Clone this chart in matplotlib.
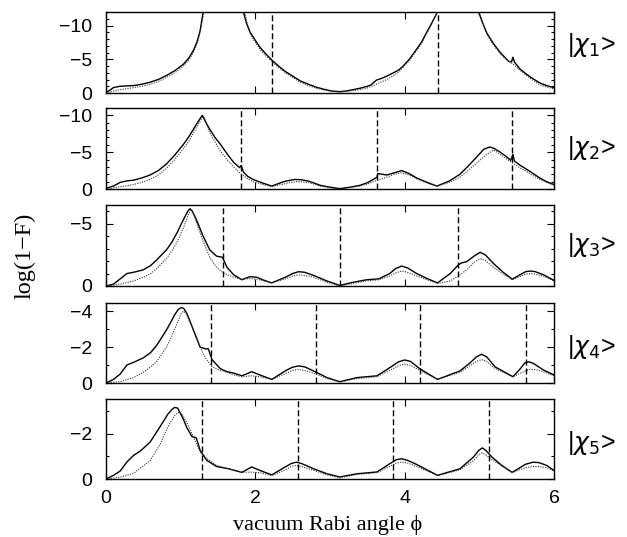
import numpy as np
import matplotlib
matplotlib.use("Agg")
import matplotlib.pyplot as plt
from matplotlib.ticker import MultipleLocator, FixedLocator

nan = np.nan

# ---------------- data: log(1-F) vs vacuum Rabi angle ----------------
# panel 1 |chi_1>
x1_solid = [0.0, 0.05, 0.10, 0.19, 0.37, 0.48, 0.59, 0.70, 0.81, 0.92, 1.04, 1.11, 1.17,
            1.22, 1.26, 1.30, 1.32, nan,
            1.82, 1.84, 1.88, 1.93, 2.00, 2.06, 2.14, 2.22, 2.31, 2.40, 2.50, 2.60, 2.71,
            2.82, 2.92, 3.02, 3.13, 3.22, 3.31, 3.40, 3.50, 3.55, 3.58, 3.62, 3.70, 3.78,
            3.85, 3.92, 3.98, 4.07, 4.16, 4.23, 4.29, 4.36, 4.43, 4.45, nan,
            4.97, 4.99, 5.04, 5.10, 5.19, 5.28, 5.39, 5.43, 5.45, 5.47, 5.54, 5.63, 5.72,
            5.81, 5.90, 6.0]
y1_solid = [-0.1, -0.4, -0.8, -1.0, -1.1, -1.3, -1.6, -2.0, -2.6, -3.3, -4.3, -5.2, -6.3,
            -7.6, -9.2, -11.9, -13, nan,
            -13, -12, -10.4, -9.0, -7.8, -6.8, -5.8, -4.9, -4.0, -3.2, -2.5, -1.8, -1.3,
            -0.85, -0.55, -0.3, -0.2, -0.3, -0.5, -0.7, -1.0, -1.2, -1.5, -1.9, -2.2, -2.6,
            -3.0, -3.4, -4.0, -5.1, -6.5, -7.6, -8.9, -10.3, -11.8, -13, nan,
            -13, -12, -10.5, -8.9, -7.3, -6.0, -4.7, -4.6, -5.3, -4.6, -3.6, -2.8, -2.1,
            -1.5, -1.1, -0.8]
x1_dot = [0.0, 0.10, 0.19, 0.37, 0.48, 0.59, 0.70, 0.81, 0.92, 1.04, 1.11, 1.17, 1.22,
          1.26, 1.31, 1.33, nan,
          1.83, 1.86, 1.89, 1.93, 2.00, 2.06, 2.14, 2.22, 2.31, 2.40, 2.50, 2.60, 2.71,
          2.82, 2.92, 3.02, 3.13, 3.22, 3.31, 3.40, 3.50, 3.58, 3.70, 3.78, 3.85, 3.92,
          3.98, 4.07, 4.16, 4.23, 4.29, 4.36, 4.43, 4.45, nan,
          4.98, 5.00, 5.05, 5.10, 5.19, 5.28, 5.36, 5.45, 5.54, 5.63, 5.72, 5.81, 5.90, 6.0]
y1_dot = [0.0, -0.3, -0.5, -0.8, -1.0, -1.3, -1.7, -2.3, -3.0, -4.0, -4.9, -6.0, -7.3,
          -9.0, -11.9, -13, nan,
          -13, -12, -10.3, -8.8, -7.5, -6.5, -5.5, -4.7, -3.8, -3.0, -2.3, -1.6, -1.1,
          -0.7, -0.45, -0.25, -0.15, -0.22, -0.35, -0.5, -0.75, -1.1, -1.7, -2.1, -2.6,
          -3.1, -3.8, -4.9, -6.3, -7.4, -8.7, -10.2, -11.8, -13, nan,
          -13, -12, -10.3, -8.7, -7.1, -5.8, -5.0, -4.3, -3.4, -2.6, -1.9, -1.2, -0.9, -0.6]

# panel 2 |chi_2>
x2_solid = [0.0, 0.10, 0.19, 0.28, 0.37, 0.48, 0.59, 0.70, 0.81, 0.92, 1.04, 1.11, 1.17,
            1.23, 1.29, 1.34, 1.39, 1.46, 1.53, 1.62, 1.71, 1.79, 1.81, 1.84, 1.90, 1.97,
            2.10, 2.22, 2.30, 2.40, 2.53, 2.62, 2.72, 2.87, 3.00, 3.13, 3.27, 3.40, 3.50,
            3.58, 3.63, 3.64, 3.70, 3.76, 3.86, 3.96, 4.06, 4.16, 4.30, 4.43, 4.52, 4.60,
            4.74, 4.85, 4.96, 5.06, 5.14, 5.20, 5.28, 5.35, 5.42, 5.45, 5.47, 5.55, 5.63,
            5.72, 5.81, 5.90, 6.0]
y2_solid = [-0.1, -0.4, -0.9, -1.1, -1.2, -1.5, -1.9, -2.5, -3.4, -4.6, -6.1, -7.1, -8.1,
            -9.1, -10.0, -9.0, -8.1, -7.0, -6.1, -4.8, -3.6, -2.9, -3.2, -2.3, -1.7, -1.3,
            -0.8, -0.4, -0.7, -1.05, -1.3, -1.25, -1.05, -0.5, -0.25, -0.05, -0.25, -0.5,
            -0.85, -1.3, -1.6, -2.1, -2.0, -1.9, -2.2, -2.5, -2.1, -1.5, -0.9, -0.4, -0.75,
            -1.1, -2.0, -3.1, -4.3, -5.4, -5.7, -5.5, -5.0, -4.5, -3.9, -4.7, -3.8, -3.2,
            -2.7, -2.1, -1.5, -1.0, -0.6]
x2_dot = [0.0, 0.19, 0.37, 0.48, 0.59, 0.70, 0.81, 0.92, 1.04, 1.11, 1.17, 1.23, 1.29,
          1.31, 1.34, 1.39, 1.46, 1.53, 1.62, 1.71, 1.81, 1.90, 1.97, 2.10, 2.22, 2.35,
          2.45, 2.55, 2.62, 2.72, 2.87, 3.00, 3.13, 3.27, 3.40, 3.50, 3.58, 3.76, 3.86,
          3.96, 4.06, 4.16, 4.30, 4.43, 4.60, 4.74, 4.85, 4.96, 5.10, 5.19, 5.28, 5.36,
          5.45, 5.54, 5.63, 5.72, 5.81, 5.90, 6.0]
y2_dot = [0.0, -0.3, -0.6, -0.9, -1.3, -1.9, -2.8, -4.0, -5.5, -6.5, -7.6, -8.7, -9.7,
          -9.8, -9.0, -7.6, -6.4, -5.2, -4.0, -3.0, -2.0, -1.4, -1.0, -0.6, -0.35, -0.6,
          -0.85, -1.0, -0.98, -0.85, -0.4, -0.15, 0.0, -0.2, -0.4, -0.65, -1.0, -1.6,
          -2.0, -2.2, -1.9, -1.4, -0.8, -0.4, -0.9, -1.6, -2.5, -3.5, -4.7, -5.3, -4.7,
          -4.1, -3.5, -2.9, -2.4, -1.8, -1.3, -0.9, -0.5]

# panel 3 |chi_3>
x3_solid = [0.0, 0.10, 0.19, 0.28, 0.37, 0.50, 0.60, 0.68, 0.81, 0.88, 0.95, 1.01, 1.06,
            1.10, 1.125, 1.15, 1.19, 1.24, 1.30, 1.39, 1.48, 1.56, 1.62, 1.71, 1.82, 1.88,
            1.93, 2.02, 2.12, 2.22, 2.32, 2.42, 2.50, 2.58, 2.66, 2.78, 2.96, 3.13, 3.31,
            3.49, 3.65, 3.80, 3.88, 3.96, 4.04, 4.16, 4.30, 4.44, 4.61, 4.72, 4.76, 4.83,
            4.93, 5.01, 5.08, 5.19, 5.32, 5.44, 5.56, 5.62, 5.68, 5.75, 5.86, 6.0]
y3_solid = [0.0, -0.15, -0.57, -1.0, -1.1, -1.3, -1.65, -2.1, -2.9, -3.5, -4.25, -5.0, -5.6,
            -6.05, -6.2, -6.05, -5.6, -4.9, -4.0, -2.9, -2.4, -2.3, -1.5, -0.9, -0.5, -0.65,
            -0.75, -0.7, -0.45, -0.25, -0.5, -0.75, -1.0, -1.15, -1.1, -0.85, -0.4, -0.05,
            -0.3, -0.5, -0.57, -1.0, -1.4, -1.6, -1.45, -1.0, -0.6, -0.25, -1.0, -1.7, -1.85,
            -1.95, -2.4, -2.7, -2.5, -1.8, -1.1, -0.55, -0.95, -1.15, -1.2, -1.15, -0.9,
            -0.45]
x3_dot = [0.0, 0.19, 0.37, 0.50, 0.60, 0.68, 0.81, 0.88, 0.95, 1.01, 1.06, 1.10, 1.135,
          1.16, 1.19, 1.24, 1.30, 1.39, 1.48, 1.56, 1.62, 1.71, 1.82, 1.93, 2.02, 2.22,
          2.42, 2.50, 2.58, 2.66, 2.78, 2.96, 3.13, 3.31, 3.49, 3.65, 3.80, 3.88, 3.96,
          4.04, 4.16, 4.30, 4.44, 4.61, 4.72, 4.83, 4.93, 5.01, 5.08, 5.19, 5.32, 5.44,
          5.56, 5.62, 5.68, 5.75, 5.86, 6.0]
y3_dot = [0.0, -0.15, -0.4, -0.7, -1.0, -1.4, -2.2, -2.8, -3.5, -4.3, -5.0, -5.7, -6.1,
          -6.0, -5.5, -4.6, -3.6, -2.3, -1.5, -1.1, -0.9, -0.7, -0.55, -0.6, -0.55, -0.25,
          -0.6, -0.8, -0.9, -0.85, -0.7, -0.3, 0.0, -0.2, -0.4, -0.5, -0.8, -1.05, -1.2,
          -1.1, -0.8, -0.5, -0.2, -0.4, -0.8, -1.3, -1.9, -2.2, -2.05, -1.5, -0.95, -0.5,
          -0.8, -0.95, -1.0, -0.95, -0.8, -0.4]

# panel 4 |chi_4>
x4_solid = [0.0, 0.10, 0.19, 0.28, 0.37, 0.50, 0.60, 0.68, 0.81, 0.87, 0.92, 0.97, 1.01,
            1.04, 1.08, 1.12, 1.17, 1.26, 1.33, 1.37, 1.42, 1.53, 1.62, 1.71, 1.82, 1.88,
            1.95, 2.06, 2.22, 2.42, 2.50, 2.58, 2.66, 2.78, 2.96, 3.13, 3.36, 3.63, 3.80,
            3.92, 4.00, 4.08, 4.20, 4.44, 4.74, 4.87, 4.96, 5.03, 5.10, 5.21, 5.45, 5.55,
            5.61, 5.66, 5.72, 5.86, 6.0]
y4_solid = [0.0, -0.2, -0.5, -1.0, -1.15, -1.4, -1.7, -2.1, -2.95, -3.4, -3.8, -4.1, -4.2,
            -4.15, -3.9, -3.5, -2.95, -2.0, -1.9, -1.9, -1.3, -0.8, -0.63, -0.55, -0.4,
            -0.5, -0.63, -0.45, -0.2, -0.72, -0.88, -0.95, -0.9, -0.67, -0.3, -0.07, -0.3,
            -0.4, -0.85, -1.18, -1.28, -1.2, -0.8, -0.2, -0.67, -1.1, -1.45, -1.6, -1.45,
            -0.9, -0.35, -0.8, -1.12, -1.18, -1.1, -0.72, -0.45]
x4_dot = [0.0, 0.19, 0.37, 0.50, 0.60, 0.68, 0.81, 0.87, 0.92, 0.97, 1.01, 1.04, 1.08,
          1.12, 1.17, 1.26, 1.33, 1.42, 1.53, 1.62, 1.71, 1.82, 1.95, 2.06, 2.22, 2.42,
          2.50, 2.58, 2.66, 2.78, 2.96, 3.13, 3.36, 3.63, 3.80, 3.92, 4.00, 4.08, 4.20,
          4.44, 4.74, 4.87, 4.96, 5.03, 5.10, 5.21, 5.45, 5.66, 5.76, 5.86, 6.0]
y4_dot = [0.0, -0.08, -0.3, -0.6, -0.9, -1.2, -2.0, -2.5, -3.0, -3.5, -3.9, -4.0, -3.8,
          -3.4, -3.0, -2.0, -1.4, -0.9, -0.7, -0.6, -0.45, -0.35, -0.4, -0.35, -0.2, -0.55,
          -0.7, -0.75, -0.7, -0.55, -0.25, -0.05, -0.25, -0.35, -0.7, -0.97, -1.05, -0.98,
          -0.7, -0.2, -0.6, -0.95, -1.2, -1.3, -1.2, -0.8, -0.35, -0.75, -0.75, -0.62,
          -0.4]

# panel 5 |chi_5>
x5_solid = [0.0, 0.10, 0.19, 0.28, 0.37, 0.46, 0.59, 0.72, 0.83, 0.88, 0.92, 0.96, 0.99,
            1.04, 1.08, 1.15, 1.21, 1.26, 1.35, 1.48, 1.64, 1.82, 1.89, 1.95, 2.06, 2.22,
            2.40, 2.48, 2.55, 2.62, 2.78, 2.96, 3.13, 3.36, 3.63, 3.80, 3.89, 3.96, 4.04,
            4.16, 4.44, 4.74, 4.92, 4.99, 5.04, 5.09, 5.17, 5.30, 5.44, 5.62, 5.72, 5.80,
            5.90, 6.0]
y5_solid = [0.0, -0.16, -0.35, -0.75, -1.04, -1.23, -1.62, -2.28, -2.86, -3.05, -3.15,
            -3.12, -2.93, -2.6, -2.28, -1.87, -1.81, -1.26, -0.82, -0.55, -0.45, -0.29,
            -0.42, -0.53, -0.38, -0.18, -0.53, -0.68, -0.74, -0.68, -0.45, -0.23, -0.09,
            -0.23, -0.31, -0.67, -0.85, -0.89, -0.82, -0.64, -0.16, -0.45, -0.96, -1.25,
            -1.37, -1.25, -0.96, -0.6, -0.29, -0.65, -0.74, -0.72, -0.6, -0.38]
x5_dot = [0.0, 0.19, 0.37, 0.59, 0.72, 0.83, 0.92, 0.97, 1.02, 1.08, 1.15, 1.26, 1.35,
          1.48, 1.64, 1.82, 1.95, 2.06, 2.22, 2.40, 2.48, 2.55, 2.62, 2.78, 2.96, 3.13,
          3.36, 3.63, 3.80, 3.89, 3.96, 4.04, 4.16, 4.44, 4.74, 4.92, 4.99, 5.04, 5.09,
          5.17, 5.44, 5.62, 5.72, 5.80, 5.90, 6.0]
y5_dot = [0.0, -0.08, -0.25, -0.8, -1.5, -2.3, -2.8, -2.93, -2.85, -2.5, -2.0, -1.2, -0.9,
          -0.6, -0.45, -0.3, -0.3, -0.28, -0.15, -0.4, -0.55, -0.6, -0.55, -0.38, -0.18,
          -0.05, -0.2, -0.28, -0.55, -0.7, -0.75, -0.7, -0.55, -0.15, -0.4, -0.8, -1.05,
          -1.15, -1.05, -0.85, -0.28, -0.5, -0.55, -0.55, -0.5, -0.35]

# dashed vertical markers
vlines1 = [2.22, 4.44]
vlines2 = [1.81, 3.63, 5.44]
vlines3 = [1.57, 3.14, 4.71]
vlines4 = [1.40, 2.81, 4.21, 5.62]
vlines5 = [1.28, 2.57, 3.85, 5.13]

state_labels = [r'|$\chi_1$>', r'|$\chi_2$>', r'|$\chi_3$>', r'|$\chi_4$>', r'|$\chi_5$>']
ylims = [(0, -12), (0, -11), (0, -6.5), (0, -4.45), (0, -3.52)]
ymajor = [[-10, -5, 0], [-10, -5, 0], [-5, 0], [-4, -2, 0], [-2, 0]]
xticks = [0, 2, 4, 6]

panels = [
    (x1_solid, y1_solid, x1_dot, y1_dot, vlines1),
    (x2_solid, y2_solid, x2_dot, y2_dot, vlines2),
    (x3_solid, y3_solid, x3_dot, y3_dot, vlines3),
    (x4_solid, y4_solid, x4_dot, y4_dot, vlines4),
    (x5_solid, y5_solid, x5_dot, y5_dot, vlines5),
]

# ---------------- figure ----------------
W, H = 627, 537
fig = plt.figure(figsize=(W / 100, H / 100), dpi=100)
plt.rcParams['font.family'] = ['Liberation Sans', 'DejaVu Sans']

tops = [12, 108, 205, 303, 399]
bots = [93, 189, 286, 383, 479]
left_px, right_px = 106, 554
label_y = [45, 148, 245, 347, 443]

for i, (xs, ys, xd, yd, vl) in enumerate(panels):
    ax = fig.add_axes([left_px / W, 1 - bots[i] / H, (right_px - left_px) / W,
                       (bots[i] - tops[i]) / H])
    ax.plot(xs, ys, color='black', lw=1.0, solid_joinstyle='round')
    ax.plot(xd, yd, color='#333333', lw=0.8, linestyle=(0, (1.0, 1.2)))
    for v in vl:
        ax.axvline(v, color='black', lw=1.0, linestyle=(0, (4.3, 2.2)))
    ax.set_xlim(0, 6)
    ax.set_ylim(*ylims[i])
    ax.xaxis.set_major_locator(FixedLocator(xticks))
    ax.yaxis.set_major_locator(FixedLocator(ymajor[i]))
    ax.yaxis.set_minor_locator(MultipleLocator(1))
    ax.tick_params(which='both', direction='in', top=True, right=True, width=0.8,
                   labelsize=14, colors='black')
    ax.tick_params(which='major', length=5)
    ax.tick_params(which='minor', length=2.5)
    ax.tick_params(axis='y', which='major', pad=10)
    ax.tick_params(axis='x', which='major', pad=8)
    for s in ax.spines.values():
        s.set_linewidth(1.0)
    if i < 4:
        ax.set_xticklabels([])
    fig.text(567 / W, 1 - label_y[i] / H, state_labels[i], fontsize=18,
             ha='left', va='center')

fig.text(25 / W, 1 - 256 / H, 'log(1−F)', rotation=90, ha='center', va='center',
         fontsize=17.5, family=['Liberation Serif', 'DejaVu Serif'])
fig.text(328 / W, 1 - 525 / H, 'vacuum Rabi angle ϕ', ha='center', va='center',
         fontsize=16, family=['Liberation Serif', 'DejaVu Serif'])

fig.savefig('out.png', dpi=100)
